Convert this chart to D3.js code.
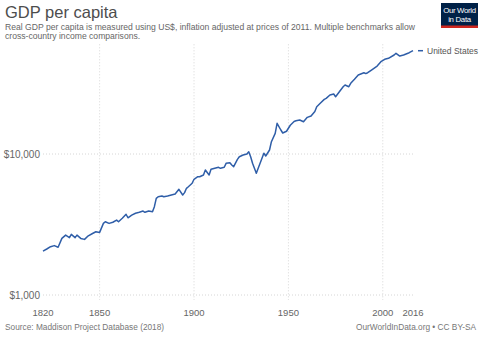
<!DOCTYPE html>
<html>
<head>
<meta charset="utf-8">
<script src="https://cdn.jsdelivr.net/npm/d3@7"></script>
<style>
  body { margin: 0; background: #fff; }
  svg { display: block; font-family: "Liberation Sans", Arial, sans-serif; }
</style>
</head>
<body>
<svg id="chart" width="500" height="343"></svg>
<script>
// GDP per capita, United States (2011 US$), log scale
const years = [1820, 1822, 1824, 1826, 1828, 1830, 1832, 1834, 1835, 1837, 1838, 1840, 1842, 1844, 1846, 1848, 1850,
  1852, 1853, 1855, 1857, 1859, 1860, 1862, 1864, 1865, 1867, 1869, 1871, 1873, 1874, 1876, 1878, 1879, 1880,
  1881, 1883, 1884, 1886, 1888, 1890, 1892, 1894, 1895, 1896, 1897, 1899, 1900, 1902, 1903, 1905, 1906, 1908,
  1909, 1911, 1913, 1914, 1916, 1917, 1919, 1920, 1921, 1923, 1924, 1926, 1928, 1929, 1930, 1931, 1933, 1934,
  1936, 1937, 1938, 1940, 1941, 1943, 1944, 1946, 1947, 1949, 1951, 1953, 1954, 1956, 1958, 1960, 1962, 1964,
  1965, 1967, 1969, 1970, 1972, 1974, 1975, 1977, 1979, 1980, 1982, 1983, 1985, 1987, 1990, 1991, 1992, 1994,
  1997, 1999, 2001, 2003, 2006, 2007, 2009, 2011, 2014, 2016];
const gdpUS = [2050, 2120, 2200, 2240, 2180, 2520, 2660, 2550, 2690, 2550, 2660, 2520, 2480, 2630, 2720, 2810, 2780,
  3220, 3310, 3220, 3280, 3400, 3310, 3500, 3740, 3530, 3690, 3800, 3860, 3940, 3860, 3940, 3900, 4230, 4850,
  4980, 5040, 4980, 5040, 5120, 5200, 5620, 5120, 5320, 5710, 5860, 6200, 6620, 6900, 6900, 7100, 7700, 7100,
  7790, 7920, 8050, 7920, 8050, 8590, 8680, 8360, 8130, 9170, 9570, 9840, 10000, 10380, 9570, 8590, 7300, 7920,
  9320, 10120, 9680, 10680, 12230, 14020, 16510, 14800, 14100, 14500, 16000, 17000, 17200, 17420, 16950, 18200, 18600, 20000,
  21650, 23000, 24400, 24800, 26200, 26640, 25490, 27660, 30010, 30860, 30010, 31720, 33870, 36340, 37730, 37200, 37730, 39420,
  42080, 45140, 46950, 47720, 50370, 51790, 49550, 50370, 52300, 54040];
const xTicks = [1820, 1850, 1900, 1950, 2000, 2016];
const xGrid = [1850, 1900, 1950, 2000];
const yTicks = [1000, 10000];
const seriesName = "United States";

const svg = d3.select("#chart");
const lineColor = "#2f5ea8";

const x = d3.scaleLinear().domain([1820, 2016]).range([43, 413]);
const y = d3.scaleLog().domain([1000, 60000]).range([295, 44.3]);

// header
svg.append("text").attr("x", 5).attr("y", 18)
  .attr("font-size", 16.5).attr("fill", "#4d4d4d")
  .text("GDP per capita");

const subtitle = [
  "Real GDP per capita is measured using US$, inflation adjusted at prices of 2011. Multiple benchmarks allow",
  "cross-country income comparisons."
];
svg.append("g").selectAll("text").data(subtitle).join("text")
  .attr("x", 5).attr("y", (d, i) => 30 + i * 8.7)
  .attr("font-size", 8.6).attr("fill", "#666")
  .text(d => d);

// logo
const logo = svg.append("g").attr("transform", "translate(441,3)");
logo.append("rect").attr("width", 37).attr("height", 25).attr("fill", "#002147");
logo.append("rect").attr("y", 22.5).attr("width", 37).attr("height", 2.5).attr("fill", "#ce261e");
logo.selectAll("text").data(["Our World", "in Data"]).join("text")
  .attr("x", 18.5).attr("y", (d, i) => 10 + i * 9)
  .attr("text-anchor", "middle").attr("font-size", 7.8).attr("fill", "#fff")
  .attr("letter-spacing", -0.3)
  .text(d => d);

// gridlines
const grid = svg.append("g").attr("stroke", "#d6d6d6").attr("stroke-dasharray", "1,2");
grid.selectAll(".gx").data(xGrid).join("line")
  .attr("x1", d => x(d)).attr("x2", d => x(d))
  .attr("y1", y.range()[1]).attr("y2", 300);
grid.selectAll(".gy").data(yTicks).join("line")
  .attr("x1", x.range()[0]).attr("x2", x.range()[1])
  .attr("y1", d => y(d)).attr("y2", d => y(d));

// axis labels
svg.append("g").selectAll("text").data(yTicks).join("text")
  .attr("x", 40).attr("y", d => y(d) + 3.5)
  .attr("text-anchor", "end").attr("font-size", 10).attr("fill", "#666")
  .text(d => "$" + d3.format(",")(d));

svg.append("g").selectAll("text").data(xTicks).join("text")
  .attr("x", d => x(d)).attr("y", 316)
  .attr("text-anchor", "middle").attr("font-size", 9.5).attr("fill", "#666")
  .text(d => d);

// the series
const pts = years.map((yr, i) => [yr, gdpUS[i]]);
svg.append("path").datum(pts)
  .attr("fill", "none").attr("stroke", lineColor).attr("stroke-width", 1.5)
  .attr("stroke-linejoin", "round")
  .attr("d", d3.line().x(d => x(d[0])).y(d => y(d[1])));

// legend label at the end of the line
const last = pts[pts.length - 1];
svg.append("line")
  .attr("x1", 418).attr("x2", 423).attr("y1", y(last[1])).attr("y2", y(last[1]))
  .attr("stroke", lineColor).attr("stroke-width", 1.5);
svg.append("text").attr("x", 427).attr("y", y(last[1]) + 3)
  .attr("font-size", 8.5).attr("fill", "#555")
  .text(seriesName);

// footer
svg.append("text").attr("x", 5).attr("y", 330)
  .attr("font-size", 8.3).attr("fill", "#777")
  .text("Source: Maddison Project Database (2018)");
svg.append("text").attr("x", 476).attr("y", 330)
  .attr("text-anchor", "end").attr("font-size", 8.3).attr("fill", "#777")
  .text("OurWorldInData.org • CC BY-SA");
</script>
</body>
</html>
